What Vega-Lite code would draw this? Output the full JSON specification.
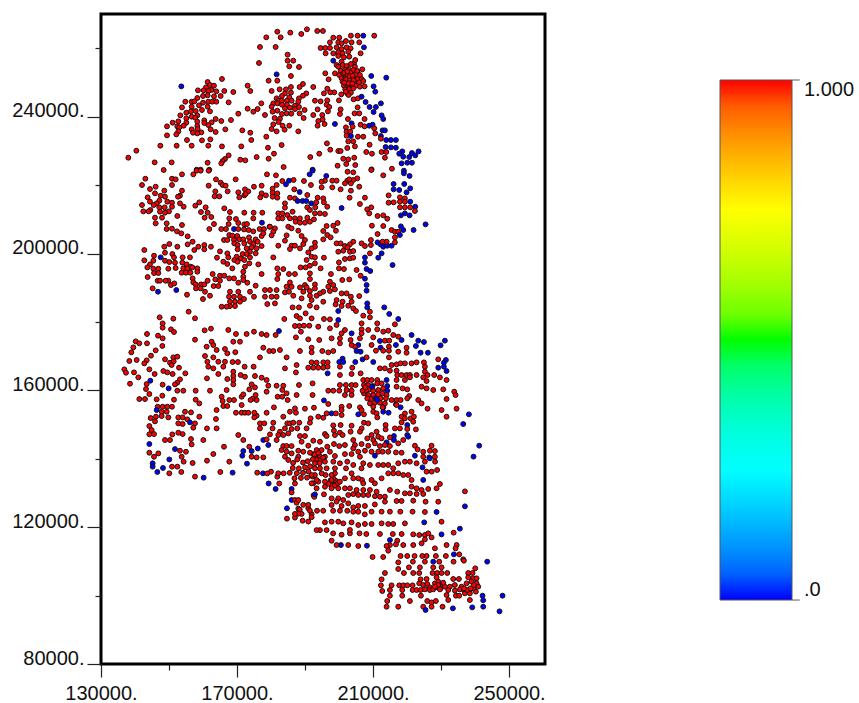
{"$schema":"https://vega.github.io/schema/vega-lite/v6.json","width":444,"height":650,"autosize":"none","padding":{"left":101,"top":14,"right":314,"bottom":39},"background":"white","view":{"stroke":"black","strokeWidth":3,"fill":"white"},"config":{"font":"Liberation Sans"},"layer":[{"data":{"values":[
{"x":153620,"y":248900,"v":0},{"x":178610,"y":263240,"v":1},{"x":176750,"y":260410,"v":1},{"x":176460,"y":255730,"v":1},{"x":165580,"y":251050,"v":1},{"x":179300,"y":250560,"v":1},{"x":161360,"y":250170,"v":1},{"x":162050,"y":249290,"v":1},{"x":163230,"y":249100,"v":1},{"x":160870,"y":248610,"v":1},{"x":162440,"y":247830,"v":1},{"x":158520,"y":247730,"v":1},{"x":160190,"y":247730,"v":1},{"x":161560,"y":247540,"v":1},{"x":163910,"y":247440,"v":1},{"x":166260,"y":247540,"v":1},{"x":168910,"y":247250,"v":1},{"x":173120,"y":249100,"v":1},{"x":173910,"y":247540,"v":1},{"x":160000,"y":246080,"v":1},{"x":161360,"y":246270,"v":1},{"x":163230,"y":245980,"v":1},{"x":165190,"y":246080,"v":1},{"x":158320,"y":245490,"v":1},{"x":156660,"y":244420,"v":1},{"x":154800,"y":244420,"v":1},{"x":157450,"y":244510,"v":1},{"x":160000,"y":244120,"v":1},{"x":161560,"y":244420,"v":1},{"x":162730,"y":244420,"v":1},{"x":163910,"y":244420,"v":1},{"x":167540,"y":244220,"v":1},{"x":177140,"y":243930,"v":1},{"x":158820,"y":243350,"v":1},{"x":156660,"y":242950,"v":1},{"x":153820,"y":242760,"v":1},{"x":161360,"y":242950,"v":1},{"x":162050,"y":241590,"v":1},{"x":159700,"y":241980,"v":1},{"x":157840,"y":241690,"v":1},{"x":156460,"y":241590,"v":1},{"x":155090,"y":241200,"v":1},{"x":173120,"y":242370,"v":1},{"x":174790,"y":241490,"v":1},{"x":176060,"y":242270,"v":1},{"x":178220,"y":240520,"v":1},{"x":170380,"y":240910,"v":1},{"x":153330,"y":240420,"v":1},{"x":158320,"y":240420,"v":1},{"x":156660,"y":240030,"v":1},{"x":155090,"y":239540,"v":1},{"x":157740,"y":239740,"v":1},{"x":163720,"y":239350,"v":1},{"x":168220,"y":239050,"v":1},{"x":165380,"y":238760,"v":1},{"x":160380,"y":238960,"v":1},{"x":152740,"y":238670,"v":1},{"x":151070,"y":238280,"v":1},{"x":155090,"y":238280,"v":1},{"x":158320,"y":238570,"v":1},{"x":162540,"y":238370,"v":1},{"x":160380,"y":238180,"v":1},{"x":161560,"y":237590,"v":1},{"x":149410,"y":237200,"v":1},{"x":152440,"y":237200,"v":1},{"x":154310,"y":237400,"v":1},{"x":158320,"y":237300,"v":1},{"x":153030,"y":236910,"v":1},{"x":162250,"y":236330,"v":1},{"x":156660,"y":236330,"v":1},{"x":158420,"y":236420,"v":1},{"x":166560,"y":236330,"v":1},{"x":152740,"y":235740,"v":1},{"x":159500,"y":235450,"v":1},{"x":158320,"y":235150,"v":1},{"x":157050,"y":235350,"v":1},{"x":163720,"y":235550,"v":1},{"x":171560,"y":236030,"v":1},{"x":173910,"y":235350,"v":1},{"x":149410,"y":234570,"v":1},{"x":152150,"y":234860,"v":1},{"x":178610,"y":234180,"v":1},{"x":174200,"y":233200,"v":1},{"x":162150,"y":233400,"v":1},{"x":159700,"y":233110,"v":1},{"x":155290,"y":233200,"v":1},{"x":147450,"y":231550,"v":1},{"x":152250,"y":231550,"v":1},{"x":156660,"y":231550,"v":1},{"x":161560,"y":231550,"v":1},{"x":165580,"y":231350,"v":1},{"x":171260,"y":231350,"v":1},{"x":179100,"y":230960,"v":1},{"x":140390,"y":230080,"v":1},{"x":138040,"y":228040,"v":1},{"x":167540,"y":228720,"v":1},{"x":166460,"y":227650,"v":1},{"x":165770,"y":227060,"v":1},{"x":165380,"y":226380,"v":1},{"x":170970,"y":227450,"v":1},{"x":172440,"y":227260,"v":1},{"x":175770,"y":228230,"v":1},{"x":179300,"y":227740,"v":1},{"x":145780,"y":226670,"v":1},{"x":150780,"y":226670,"v":1},{"x":161360,"y":226570,"v":1},{"x":158130,"y":224530,"v":1},{"x":159300,"y":224530,"v":1},{"x":161850,"y":224530,"v":1},
{"x":181850,"y":264890,"v":1},{"x":182830,"y":263240,"v":1},{"x":185670,"y":264600,"v":1},{"x":188900,"y":264210,"v":1},{"x":190570,"y":265580,"v":1},{"x":193600,"y":265090,"v":1},{"x":195270,"y":265090,"v":1},{"x":181360,"y":260410,"v":1},{"x":184880,"y":258170,"v":1},{"x":184880,"y":256410,"v":1},{"x":186550,"y":256410,"v":1},{"x":185370,"y":254750,"v":1},{"x":188220,"y":254560,"v":1},{"x":181650,"y":252410,"v":0},{"x":185860,"y":251930,"v":1},{"x":181850,"y":250560,"v":1},{"x":189390,"y":249590,"v":1},{"x":188410,"y":248710,"v":1},{"x":192430,"y":248710,"v":1},{"x":182530,"y":248030,"v":1},{"x":184390,"y":248030,"v":1},{"x":185860,"y":248710,"v":1},{"x":180180,"y":247540,"v":1},{"x":185860,"y":247050,"v":1},{"x":184100,"y":246850,"v":1},{"x":190370,"y":246850,"v":1},{"x":189390,"y":246170,"v":1},{"x":188220,"y":245390,"v":1},{"x":183220,"y":246080,"v":1},{"x":185370,"y":245690,"v":1},{"x":181650,"y":245390,"v":1},{"x":182240,"y":244710,"v":1},{"x":183220,"y":244710,"v":1},{"x":184690,"y":244710,"v":1},{"x":186060,"y":244710,"v":1},{"x":188020,"y":244420,"v":1},{"x":180670,"y":243930,"v":1},{"x":181850,"y":243930,"v":1},{"x":183220,"y":243540,"v":1},{"x":184690,"y":243540,"v":1},{"x":187040,"y":243250,"v":1},{"x":188220,"y":242860,"v":1},{"x":180180,"y":242950,"v":1},{"x":184100,"y":242470,"v":1},{"x":185570,"y":242660,"v":1},{"x":187040,"y":242270,"v":1},{"x":189880,"y":241980,"v":1},{"x":188410,"y":241000,"v":1},{"x":183220,"y":240810,"v":1},{"x":184590,"y":241000,"v":1},{"x":185960,"y":240910,"v":1},{"x":181850,"y":241790,"v":1},{"x":180470,"y":241490,"v":1},{"x":182630,"y":239440,"v":1},{"x":189590,"y":239640,"v":1},{"x":181060,"y":239640,"v":1},{"x":182240,"y":238470,"v":1},{"x":183410,"y":237400,"v":1},{"x":185370,"y":237400,"v":1},{"x":180670,"y":237790,"v":1},{"x":184000,"y":236230,"v":1},{"x":181650,"y":235740,"v":1},{"x":188020,"y":235740,"v":1},{"x":180180,"y":236420,"v":1},{"x":183120,"y":231740,"v":1},{"x":180870,"y":229210,"v":1},
{"x":198310,"y":263140,"v":1},{"x":200070,"y":263140,"v":1},{"x":203500,"y":263720,"v":1},{"x":205460,"y":263720,"v":1},{"x":207130,"y":263720,"v":0},{"x":210360,"y":263720,"v":1},{"x":197330,"y":261770,"v":1},{"x":199780,"y":261770,"v":1},{"x":200760,"y":261480,"v":1},{"x":202030,"y":262160,"v":1},{"x":203700,"y":261770,"v":1},{"x":205950,"y":261770,"v":1},{"x":207330,"y":260310,"v":0},{"x":194590,"y":260120,"v":1},{"x":195960,"y":260120,"v":1},{"x":197330,"y":260120,"v":1},{"x":199290,"y":260310,"v":1},{"x":200760,"y":259820,"v":1},{"x":202230,"y":260310,"v":1},{"x":203410,"y":260020,"v":1},{"x":196060,"y":258560,"v":1},{"x":198310,"y":258560,"v":1},{"x":199780,"y":258850,"v":1},{"x":201050,"y":258560,"v":1},{"x":202720,"y":259040,"v":1},{"x":206350,"y":258560,"v":1},{"x":198310,"y":256410,"v":0},{"x":199780,"y":257780,"v":1},{"x":201450,"y":257390,"v":1},{"x":203010,"y":257580,"v":1},{"x":199290,"y":255140,"v":1},{"x":200760,"y":256120,"v":1},{"x":204390,"y":255630,"v":1},{"x":204780,"y":256610,"v":1},{"x":206840,"y":253880,"v":1},{"x":195960,"y":252710,"v":1},{"x":196940,"y":250950,"v":1},{"x":198800,"y":252710,"v":1},{"x":209480,"y":251930,"v":0},{"x":213890,"y":251440,"v":0},{"x":210170,"y":248900,"v":0},{"x":210660,"y":247340,"v":0},
{"x":199780,"y":254660,"v":1},{"x":201050,"y":255140,"v":1},{"x":202230,"y":254850,"v":1},{"x":203500,"y":255440,"v":1},{"x":204680,"y":254660,"v":1},{"x":200470,"y":253490,"v":1},{"x":201740,"y":253680,"v":1},{"x":202920,"y":253880,"v":1},{"x":204190,"y":253680,"v":1},{"x":205370,"y":253390,"v":1},{"x":200070,"y":252220,"v":1},{"x":201250,"y":252510,"v":1},{"x":202430,"y":252710,"v":1},{"x":203700,"y":252510,"v":1},{"x":204880,"y":252220,"v":1},{"x":206150,"y":252220,"v":1},{"x":200760,"y":251240,"v":1},{"x":201940,"y":251440,"v":1},{"x":203010,"y":251540,"v":1},{"x":204190,"y":251240,"v":1},{"x":205370,"y":251050,"v":1},{"x":206640,"y":251050,"v":1},{"x":201050,"y":250270,"v":1},{"x":202230,"y":250370,"v":1},{"x":203410,"y":250460,"v":1},{"x":204680,"y":250070,"v":1},{"x":205950,"y":250070,"v":1},{"x":207130,"y":250460,"v":1},{"x":201450,"y":249100,"v":1},{"x":202620,"y":249290,"v":1},{"x":203800,"y":249200,"v":1},{"x":204970,"y":249100,"v":1},{"x":206150,"y":248800,"v":1},{"x":207520,"y":248900,"v":1},{"x":201840,"y":248030,"v":1},{"x":203010,"y":248120,"v":1},{"x":204190,"y":248320,"v":1},{"x":202430,"y":246850,"v":1},{"x":203500,"y":247050,"v":1},{"x":202810,"y":246370,"v":1},{"x":202030,"y":247340,"v":1},{"x":201600,"y":252900,"v":1},{"x":202500,"y":252100,"v":1},{"x":203300,"y":252900,"v":1},{"x":202100,"y":251000,"v":1},{"x":203200,"y":250900,"v":1},{"x":204300,"y":250700,"v":1},{"x":202800,"y":249800,"v":1},{"x":203900,"y":249700,"v":1},{"x":202400,"y":253300,"v":1},{"x":203100,"y":251900,"v":1},{"x":204000,"y":252000,"v":1},{"x":201500,"y":250000,"v":1},
{"x":200660,"y":246560,"v":1},{"x":195570,"y":246850,"v":1},{"x":196550,"y":248220,"v":1},{"x":198600,"y":247150,"v":1},{"x":197430,"y":247150,"v":1},{"x":204290,"y":245100,"v":1},{"x":205560,"y":245390,"v":1},{"x":206640,"y":245880,"v":0},{"x":199980,"y":244810,"v":1},{"x":192920,"y":244710,"v":1},{"x":194590,"y":244510,"v":1},{"x":196550,"y":244810,"v":1},{"x":196350,"y":243540,"v":1},{"x":207820,"y":244320,"v":0},{"x":212320,"y":243930,"v":0},{"x":197130,"y":242860,"v":1},{"x":208990,"y":242860,"v":0},{"x":210850,"y":242860,"v":0},{"x":205460,"y":242760,"v":1},{"x":200470,"y":242170,"v":1},{"x":193700,"y":242170,"v":1},{"x":196740,"y":241590,"v":1},{"x":210170,"y":241390,"v":0},{"x":204580,"y":241000,"v":1},{"x":205950,"y":241000,"v":1},{"x":212520,"y":240420,"v":0},{"x":192430,"y":240520,"v":1},{"x":195080,"y":240520,"v":1},{"x":200270,"y":240810,"v":1},{"x":193900,"y":238760,"v":1},{"x":195170,"y":239250,"v":1},{"x":202620,"y":239350,"v":1},{"x":207520,"y":239350,"v":1},{"x":213010,"y":239350,"v":0},{"x":195760,"y":237890,"v":1},{"x":193700,"y":237400,"v":1},{"x":198800,"y":237890,"v":0},{"x":203700,"y":238080,"v":0},{"x":206350,"y":237690,"v":1},{"x":208890,"y":237400,"v":0},{"x":209870,"y":237690,"v":0},{"x":203990,"y":237110,"v":1},{"x":202030,"y":236910,"v":1},{"x":207520,"y":237200,"v":1},{"x":210360,"y":236620,"v":1},{"x":202230,"y":235640,"v":1},{"x":203310,"y":235640,"v":1},{"x":212810,"y":236030,"v":0},{"x":213500,"y":236030,"v":0},{"x":210660,"y":235150,"v":1},{"x":202230,"y":234470,"v":1},{"x":203500,"y":234370,"v":0},{"x":205560,"y":234180,"v":1},{"x":207130,"y":234180,"v":1},{"x":212320,"y":234370,"v":0},{"x":212320,"y":233590,"v":1},{"x":213890,"y":233200,"v":0},{"x":215260,"y":233200,"v":0},{"x":216730,"y":233200,"v":0},{"x":202720,"y":232810,"v":1},{"x":204190,"y":232810,"v":1},{"x":196450,"y":232230,"v":1},{"x":208990,"y":231840,"v":1},{"x":213700,"y":231160,"v":0},{"x":215260,"y":231060,"v":0},{"x":216730,"y":230960,"v":0},{"x":197430,"y":230380,"v":1},{"x":202430,"y":230870,"v":1},{"x":204680,"y":231350,"v":1},{"x":199780,"y":229990,"v":1},{"x":200470,"y":229990,"v":1},{"x":194190,"y":229210,"v":1},{"x":208010,"y":229700,"v":1},{"x":209690,"y":229210,"v":1},{"x":212520,"y":229700,"v":1},{"x":213890,"y":229700,"v":1},{"x":218600,"y":229890,"v":0},{"x":217710,"y":229210,"v":0},{"x":221440,"y":229400,"v":0},{"x":223400,"y":229890,"v":0},{"x":222420,"y":228720,"v":0},{"x":218890,"y":228330,"v":0},{"x":220650,"y":228230,"v":0},{"x":191550,"y":228230,"v":1},{"x":213500,"y":228040,"v":1},{"x":201250,"y":227740,"v":1},{"x":202720,"y":227550,"v":1},{"x":204480,"y":228040,"v":1},{"x":218400,"y":226380,"v":0},{"x":220070,"y":226570,"v":0},{"x":221440,"y":226570,"v":0},{"x":202130,"y":226190,"v":1},{"x":204780,"y":225890,"v":1},{"x":199580,"y":225700,"v":1},{"x":183710,"y":225310,"v":1},{"x":215560,"y":224820,"v":1},{"x":192240,"y":224530,"v":0},{"x":209580,"y":224630,"v":1},
{"x":143040,"y":221900,"v":1},{"x":142060,"y":220050,"v":1},{"x":146080,"y":219560,"v":1},{"x":144410,"y":218880,"v":1},{"x":145880,"y":217620,"v":1},{"x":148620,"y":218400,"v":1},{"x":148430,"y":224440,"v":1},{"x":150880,"y":221900,"v":1},{"x":151960,"y":221710,"v":1},{"x":153820,"y":223170,"v":1},{"x":150880,"y":220050,"v":1},{"x":157150,"y":223170,"v":1},{"x":158130,"y":224240,"v":1},{"x":159310,"y":224240,"v":1},{"x":161660,"y":224240,"v":1},{"x":163810,"y":221710,"v":1},{"x":165190,"y":220740,"v":1},{"x":161660,"y":219860,"v":1},{"x":169600,"y":221710,"v":1},{"x":165770,"y":220050,"v":1},{"x":166660,"y":219860,"v":1},{"x":167240,"y":218200,"v":1},{"x":163620,"y":218200,"v":1},{"x":163420,"y":216740,"v":1},{"x":164790,"y":216740,"v":1},{"x":170380,"y":217910,"v":1},{"x":172340,"y":218790,"v":1},{"x":173320,"y":218200,"v":1},{"x":174980,"y":219560,"v":1},{"x":177240,"y":219860,"v":1},{"x":178810,"y":223170,"v":1},{"x":172140,"y":217030,"v":1},{"x":170670,"y":216450,"v":1},{"x":172540,"y":217420,"v":1},{"x":177240,"y":217620,"v":1},{"x":176850,"y":216450,"v":1},{"x":178510,"y":217030,"v":1},{"x":153820,"y":218400,"v":1},{"x":153230,"y":216930,"v":1},{"x":152640,"y":216640,"v":1},{"x":143720,"y":216450,"v":1},{"x":147550,"y":216930,"v":1},{"x":147150,"y":215470,"v":1},{"x":148820,"y":216640,"v":1},{"x":144410,"y":215180,"v":1},{"x":146370,"y":214690,"v":1},{"x":142060,"y":214200,"v":1},{"x":145490,"y":214200,"v":1},{"x":149510,"y":215180,"v":1},{"x":150880,"y":214880,"v":1},{"x":153230,"y":214690,"v":1},{"x":154310,"y":213710,"v":1},{"x":158910,"y":214980,"v":1},{"x":157740,"y":214010,"v":1},{"x":147150,"y":213520,"v":1},{"x":148720,"y":213520,"v":1},{"x":144510,"y":212740,"v":1},{"x":150880,"y":213710,"v":1},{"x":142450,"y":212350,"v":1},{"x":144020,"y":212350,"v":1},{"x":147350,"y":212250,"v":1},{"x":149990,"y":212350,"v":1},{"x":148820,"y":211960,"v":1},{"x":160780,"y":213520,"v":1},{"x":159400,"y":212150,"v":1},{"x":161360,"y":211960,"v":1},{"x":166260,"y":213230,"v":1},{"x":167930,"y":212150,"v":1},{"x":172140,"y":211960,"v":1},{"x":174890,"y":211960,"v":1},{"x":177440,"y":211960,"v":1},{"x":145880,"y":210500,"v":1},{"x":147940,"y":210500,"v":1},{"x":152450,"y":210990,"v":1},{"x":160480,"y":210500,"v":1},{"x":162440,"y":210690,"v":1},{"x":167730,"y":210300,"v":1},{"x":169690,"y":210110,"v":1},{"x":174790,"y":210300,"v":1},{"x":146080,"y":208840,"v":1},{"x":149310,"y":208840,"v":1},{"x":153820,"y":208350,"v":1},{"x":163230,"y":208640,"v":1},{"x":167540,"y":208640,"v":1},{"x":170380,"y":208940,"v":1},{"x":172140,"y":208550,"v":1},{"x":172930,"y":208640,"v":1},{"x":177340,"y":209040,"v":0},{"x":149310,"y":207180,"v":1},{"x":150880,"y":207280,"v":1},{"x":152350,"y":206500,"v":1},{"x":153620,"y":205910,"v":1},{"x":161860,"y":207180,"v":1},{"x":165380,"y":207180,"v":1},{"x":166760,"y":207180,"v":1},{"x":169110,"y":207180,"v":0},{"x":170380,"y":207180,"v":1},{"x":172050,"y":207080,"v":1},{"x":173420,"y":206890,"v":1},{"x":174790,"y":206500,"v":1},{"x":176650,"y":207180,"v":1},{"x":177930,"y":207180,"v":1},{"x":179590,"y":207860,"v":1},{"x":155480,"y":205040,"v":1},{"x":167730,"y":205430,"v":1},{"x":168620,"y":205230,"v":1},{"x":170090,"y":205130,"v":1},{"x":166170,"y":203970,"v":1},{"x":167150,"y":203970,"v":1},{"x":169110,"y":203970,"v":1},{"x":170670,"y":204160,"v":1},{"x":171850,"y":204160,"v":1},{"x":173520,"y":204750,"v":1},{"x":175480,"y":204160,"v":1},{"x":177240,"y":205130,"v":1},{"x":177730,"y":205910,"v":1},{"x":156950,"y":203480,"v":1},{"x":155480,"y":202700,"v":1},{"x":150090,"y":202790,"v":1},{"x":158620,"y":202010,"v":1},{"x":160380,"y":202500,"v":1},{"x":160380,"y":201240,"v":1},{"x":162340,"y":202010,"v":1},{"x":148620,"y":202010,"v":1},{"x":152450,"y":202010,"v":1},{"x":157440,"y":201040,"v":1},{"x":142740,"y":201040,"v":1},{"x":169200,"y":202990,"v":1},{"x":170180,"y":202500,"v":1},{"x":172140,"y":202990,"v":1},{"x":173820,"y":203480,"v":1},{"x":174790,"y":202790,"v":1},{"x":176060,"y":203480,"v":1},{"x":170180,"y":201240,"v":1},{"x":172830,"y":201530,"v":1},{"x":174300,"y":201820,"v":1},{"x":175770,"y":201530,"v":1},{"x":177240,"y":202210,"v":1},{"x":175480,"y":200070,"v":1},{"x":173820,"y":200550,"v":1},{"x":148820,"y":200260,"v":1},{"x":150980,"y":199870,"v":1},{"x":156170,"y":198900,"v":1},{"x":154010,"y":198900,"v":1},{"x":151470,"y":198900,"v":1},{"x":147550,"y":198900,"v":0},{"x":145590,"y":199380,"v":1},{"x":164990,"y":200650,"v":1},{"x":164110,"y":198800,"v":1},{"x":167150,"y":200070,"v":1},{"x":167440,"y":198900,"v":1},{"x":169890,"y":199090,"v":1},{"x":171650,"y":199870,"v":1},{"x":172830,"y":199870,"v":1},{"x":173820,"y":198900,"v":1},{"x":171160,"y":198600,"v":1},{"x":169200,"y":198120,"v":1},{"x":170180,"y":197630,"v":1},{"x":172140,"y":198120,"v":1},{"x":145390,"y":197920,"v":1},{"x":142740,"y":198020,"v":1},{"x":144410,"y":196850,"v":1},{"x":148820,"y":197920,"v":1},{"x":150090,"y":197530,"v":1},{"x":151760,"y":197340,"v":1},{"x":153920,"y":197340,"v":1},{"x":155190,"y":196850,"v":1},{"x":156370,"y":196160,"v":1},{"x":165970,"y":197630,"v":1},{"x":167150,"y":196950,"v":1},{"x":168620,"y":195680,"v":1},{"x":172340,"y":196160,"v":1},{"x":173620,"y":197140,"v":1},{"x":176260,"y":196850,"v":1},{"x":143630,"y":195970,"v":1},{"x":145390,"y":195580,"v":1},{"x":146860,"y":195580,"v":1},{"x":145590,"y":194310,"v":1},{"x":146860,"y":194310,"v":1},{"x":149800,"y":195580,"v":1},{"x":151960,"y":195780,"v":1},{"x":154210,"y":195680,"v":1},{"x":155390,"y":195680,"v":1},{"x":156860,"y":195970,"v":1},{"x":158320,"y":195680,"v":1},{"x":158320,"y":194700,"v":1},{"x":153720,"y":194410,"v":1},{"x":154990,"y":194410,"v":1},{"x":156270,"y":194410,"v":1},{"x":146660,"y":192070,"v":1},{"x":143720,"y":193140,"v":1},{"x":162840,"y":194020,"v":1},{"x":164990,"y":193530,"v":1},{"x":166260,"y":193530,"v":1},{"x":167730,"y":192750,"v":1},{"x":169110,"y":192750,"v":1},{"x":171850,"y":194700,"v":1},{"x":171850,"y":193240,"v":1},{"x":171850,"y":192270,"v":1},{"x":177240,"y":194020,"v":1},{"x":163620,"y":192460,"v":1},{"x":156950,"y":192750,"v":1},{"x":157150,"y":191580,"v":1},{"x":149800,"y":192070,"v":1},{"x":149020,"y":192070,"v":1},{"x":147350,"y":192070,"v":1},{"x":150580,"y":190800,"v":1},{"x":151560,"y":191290,"v":1},{"x":145190,"y":189830,"v":1},{"x":146760,"y":188850,"v":0},{"x":152150,"y":189340,"v":0},{"x":157840,"y":190990,"v":1},{"x":159400,"y":190990,"v":1},{"x":160380,"y":190990,"v":1},{"x":161360,"y":192070,"v":1},{"x":157930,"y":189830,"v":1},{"x":159310,"y":189830,"v":1},{"x":160580,"y":188850,"v":1},{"x":163130,"y":190510,"v":1},{"x":164500,"y":190510,"v":1},{"x":164990,"y":192070,"v":1},{"x":162050,"y":187680,"v":1},{"x":155290,"y":187980,"v":1},{"x":159990,"y":186710,"v":1},{"x":173030,"y":191480,"v":1},{"x":170380,"y":191480,"v":1},{"x":178220,"y":189340,"v":1},{"x":175480,"y":190610,"v":1},{"x":173820,"y":188850,"v":1},{"x":170380,"y":188850,"v":1},{"x":167930,"y":188850,"v":1},{"x":169110,"y":187390,"v":1},{"x":174990,"y":187390,"v":1},{"x":167640,"y":187390,"v":1},{"x":170870,"y":187390,"v":1},{"x":172050,"y":186710,"v":1},{"x":178220,"y":187390,"v":1},{"x":167930,"y":185930,"v":1},{"x":169410,"y":185930,"v":1},{"x":170870,"y":185930,"v":1},{"x":167930,"y":184660,"v":1},{"x":169410,"y":184660,"v":1},{"x":165480,"y":184470,"v":1},{"x":166960,"y":184470,"v":1},{"x":178910,"y":185250,"v":1},
{"x":192230,"y":224250,"v":0},{"x":191350,"y":223170,"v":0},{"x":196250,"y":222690,"v":0},{"x":181450,"y":222880,"v":1},{"x":209480,"y":224440,"v":1},{"x":213010,"y":222880,"v":1},{"x":219090,"y":224250,"v":0},{"x":219090,"y":223470,"v":0},{"x":220750,"y":222690,"v":0},{"x":202520,"y":223950,"v":1},{"x":204190,"y":223760,"v":1},{"x":205370,"y":222000,"v":1},{"x":204190,"y":221520,"v":1},{"x":202430,"y":221320,"v":1},{"x":201740,"y":220540,"v":1},{"x":203500,"y":220540,"v":1},{"x":203010,"y":221710,"v":1},{"x":198020,"y":221320,"v":1},{"x":199290,"y":221320,"v":1},{"x":195860,"y":221320,"v":1},{"x":194880,"y":221030,"v":1},{"x":189690,"y":221220,"v":1},{"x":186650,"y":221520,"v":1},{"x":183320,"y":221220,"v":1},{"x":185280,"y":221320,"v":0},{"x":184390,"y":220250,"v":0},{"x":181650,"y":220050,"v":1},{"x":191740,"y":220050,"v":1},{"x":198020,"y":219370,"v":1},{"x":194880,"y":219370,"v":1},{"x":200470,"y":218790,"v":1},{"x":203500,"y":218400,"v":1},{"x":205950,"y":219560,"v":1},{"x":216060,"y":220350,"v":0},{"x":219180,"y":220350,"v":0},{"x":216060,"y":218790,"v":0},{"x":217710,"y":218590,"v":0},{"x":220940,"y":219080,"v":0},{"x":219870,"y":217910,"v":0},{"x":188410,"y":218000,"v":0},{"x":186840,"y":218790,"v":1},{"x":180470,"y":218980,"v":1},{"x":180470,"y":217810,"v":1},{"x":181850,"y":217620,"v":1},{"x":180470,"y":216640,"v":1},{"x":181850,"y":216350,"v":1},{"x":190670,"y":217130,"v":1},{"x":193700,"y":216350,"v":1},{"x":195370,"y":216150,"v":1},{"x":203110,"y":216350,"v":1},{"x":207620,"y":216350,"v":1},{"x":214580,"y":217030,"v":1},{"x":217910,"y":216450,"v":1},{"x":219380,"y":216150,"v":1},{"x":217910,"y":215180,"v":1},{"x":219380,"y":215180,"v":1},{"x":214580,"y":214880,"v":1},{"x":216060,"y":214980,"v":1},{"x":185570,"y":216350,"v":1},{"x":187040,"y":216150,"v":1},{"x":187820,"y":215370,"v":0},{"x":189290,"y":215370,"v":0},{"x":190370,"y":215370,"v":0},{"x":191840,"y":214690,"v":0},{"x":193310,"y":214980,"v":1},{"x":195560,"y":214980,"v":1},{"x":184100,"y":214690,"v":1},{"x":220940,"y":215180,"v":0},{"x":206150,"y":214490,"v":1},{"x":209480,"y":213520,"v":1},{"x":208300,"y":212940,"v":1},{"x":208890,"y":211770,"v":1},{"x":200760,"y":213330,"v":0},{"x":190670,"y":213520,"v":1},{"x":193010,"y":213520,"v":1},{"x":196540,"y":213710,"v":1},{"x":217910,"y":213520,"v":1},{"x":219380,"y":213520,"v":1},{"x":220940,"y":213520,"v":1},{"x":222420,"y":213710,"v":0},{"x":184100,"y":213430,"v":1},{"x":186350,"y":212250,"v":1},{"x":191450,"y":212740,"v":1},{"x":192920,"y":211770,"v":1},{"x":194390,"y":211770,"v":1},{"x":195860,"y":211570,"v":1},{"x":182140,"y":211770,"v":1},{"x":183320,"y":211770,"v":1},{"x":184790,"y":211280,"v":1},{"x":222320,"y":212450,"v":1},{"x":218200,"y":211180,"v":0},{"x":219380,"y":211770,"v":0},{"x":220750,"y":211180,"v":0},{"x":211340,"y":210990,"v":1},{"x":213010,"y":211180,"v":1},{"x":214190,"y":210200,"v":1},{"x":182140,"y":210300,"v":1},{"x":183320,"y":210300,"v":1},{"x":185570,"y":210300,"v":1},{"x":187040,"y":210300,"v":1},{"x":188510,"y":210300,"v":1},{"x":190670,"y":210500,"v":1},{"x":192630,"y":210010,"v":1},{"x":187240,"y":209330,"v":1},{"x":188510,"y":209040,"v":1},{"x":189980,"y":209040,"v":1},{"x":191450,"y":209330,"v":1},{"x":225460,"y":208550,"v":0},{"x":199580,"y":208940,"v":1},{"x":198310,"y":208160,"v":1},{"x":196350,"y":208060,"v":1},{"x":179690,"y":207860,"v":1},{"x":181160,"y":207380,"v":1},{"x":185080,"y":207860,"v":1},{"x":186060,"y":207380,"v":1},{"x":209680,"y":208160,"v":1},{"x":213010,"y":208060,"v":1},{"x":218200,"y":207960,"v":0},{"x":218890,"y":206890,"v":0},{"x":221930,"y":206890,"v":0},{"x":215460,"y":206890,"v":1},{"x":216440,"y":206400,"v":1},{"x":217420,"y":206400,"v":1},{"x":195370,"y":206600,"v":1},{"x":199090,"y":206690,"v":1},{"x":188020,"y":206690,"v":1},{"x":180670,"y":206400,"v":1},{"x":180180,"y":205330,"v":1},{"x":211340,"y":205720,"v":1},{"x":217910,"y":205430,"v":0},{"x":184590,"y":205330,"v":1},{"x":184100,"y":203770,"v":1},{"x":196550,"y":205430,"v":1},{"x":197530,"y":204750,"v":1},{"x":189000,"y":205140,"v":1},{"x":189980,"y":203970,"v":1},{"x":192920,"y":203190,"v":1},{"x":195370,"y":204160,"v":1},{"x":216440,"y":204750,"v":1},{"x":209380,"y":203970,"v":1},{"x":211340,"y":203280,"v":0},{"x":212210,"y":202700,"v":0},{"x":213010,"y":202010,"v":0},{"x":214190,"y":202300,"v":0},{"x":215460,"y":202300,"v":0},{"x":216440,"y":203280,"v":1},{"x":214000,"y":203480,"v":1},{"x":212810,"y":203480,"v":1},{"x":206640,"y":202990,"v":1},{"x":204190,"y":203480,"v":1},{"x":199290,"y":202990,"v":1},{"x":200470,"y":202990,"v":1},{"x":201740,"y":202210,"v":1},{"x":203210,"y":202700,"v":1},{"x":202520,"y":201820,"v":1},{"x":182140,"y":202310,"v":1},{"x":186060,"y":202310,"v":1},{"x":187040,"y":202310,"v":1},{"x":189490,"y":202790,"v":1},{"x":185570,"y":201330,"v":1},{"x":188510,"y":201530,"v":1},{"x":192920,"y":202010,"v":1},{"x":191940,"y":201530,"v":1},{"x":199780,"y":200550,"v":1},{"x":201250,"y":200840,"v":1},{"x":203210,"y":200550,"v":1},{"x":204190,"y":200750,"v":1},{"x":207620,"y":202210,"v":1},{"x":209380,"y":202500,"v":1},{"x":190960,"y":200360,"v":1},{"x":209090,"y":200070,"v":1},{"x":212520,"y":200070,"v":0},{"x":191940,"y":199090,"v":1},{"x":192920,"y":198890,"v":1},{"x":195560,"y":198800,"v":1},{"x":180670,"y":198890,"v":1},{"x":211540,"y":198800,"v":0},{"x":207620,"y":198890,"v":0},{"x":203210,"y":198600,"v":1},{"x":204190,"y":198800,"v":1},{"x":201740,"y":198410,"v":1},{"x":199980,"y":197430,"v":1},{"x":207620,"y":197340,"v":0},{"x":190470,"y":198120,"v":1},{"x":192920,"y":197140,"v":1},{"x":191450,"y":196460,"v":1},{"x":190180,"y":195970,"v":1},{"x":188710,"y":195970,"v":1},{"x":181850,"y":195680,"v":1},{"x":183610,"y":195480,"v":1},{"x":194590,"y":195680,"v":1},{"x":199980,"y":195680,"v":1},{"x":201450,"y":195480,"v":1},{"x":205170,"y":195190,"v":1},{"x":215750,"y":196650,"v":0},{"x":208110,"y":195480,"v":0},{"x":209180,"y":194900,"v":0},{"x":182140,"y":194020,"v":1},{"x":185280,"y":194020,"v":1},{"x":187040,"y":194020,"v":1},{"x":191450,"y":194220,"v":1},{"x":197620,"y":194020,"v":1},{"x":206350,"y":193530,"v":1},{"x":207620,"y":192660,"v":0},{"x":181850,"y":192560,"v":1},{"x":191450,"y":192560,"v":1},{"x":200960,"y":192270,"v":1},{"x":203010,"y":192460,"v":1},{"x":197330,"y":191780,"v":1},{"x":192920,"y":190990,"v":1},{"x":185570,"y":191580,"v":1},{"x":184590,"y":190310,"v":1},{"x":196840,"y":190310,"v":1},{"x":198310,"y":190800,"v":1},{"x":208110,"y":190800,"v":0},{"x":208110,"y":189150,"v":0},{"x":186060,"y":190310,"v":1},{"x":189980,"y":190800,"v":1},{"x":188510,"y":190120,"v":1},{"x":190470,"y":190120,"v":1},{"x":192920,"y":189830,"v":1},{"x":198800,"y":189540,"v":1},{"x":195370,"y":188850,"v":1},{"x":194390,"y":188360,"v":1},{"x":184100,"y":188660,"v":1},{"x":185280,"y":188850,"v":1},{"x":181650,"y":189340,"v":1},{"x":179690,"y":189340,"v":1},{"x":191450,"y":189050,"v":1},{"x":189490,"y":188850,"v":1},{"x":197330,"y":189050,"v":1},{"x":200760,"y":188360,"v":1},{"x":202230,"y":188360,"v":1},{"x":203500,"y":187390,"v":1},{"x":205950,"y":187580,"v":1},{"x":181650,"y":187390,"v":1},{"x":180180,"y":187390,"v":1},{"x":186550,"y":187680,"v":1},{"x":189000,"y":186900,"v":1},{"x":191450,"y":187680,"v":1},{"x":193410,"y":187680,"v":1},{"x":191940,"y":186410,"v":1},{"x":195370,"y":185930,"v":1},{"x":199290,"y":186410,"v":1},{"x":201050,"y":185930,"v":1},{"x":203700,"y":185930,"v":1},{"x":181160,"y":185440,"v":1},{"x":191450,"y":184760,"v":1},{"x":199000,"y":185150,"v":1},{"x":200760,"y":184660,"v":1},{"x":202720,"y":184760,"v":1},{"x":208300,"y":185440,"v":0},{"x":208300,"y":184270,"v":0},{"x":213300,"y":184270,"v":0},{"x":186350,"y":184270,"v":1},{"x":188220,"y":184270,"v":1},{"x":193410,"y":184270,"v":1},{"x":204190,"y":183980,"v":1},
{"x":155780,"y":183020,"v":1},{"x":147250,"y":181360,"v":1},{"x":151270,"y":180970,"v":1},{"x":157640,"y":181070,"v":1},{"x":148130,"y":179600,"v":1},{"x":148130,"y":178340,"v":1},{"x":150580,"y":177850,"v":1},{"x":151470,"y":177070,"v":1},{"x":162340,"y":178050,"v":1},{"x":160480,"y":177560,"v":1},{"x":143530,"y":176490,"v":1},{"x":146760,"y":176000,"v":1},{"x":148130,"y":175220,"v":1},{"x":157640,"y":174830,"v":1},{"x":140200,"y":174340,"v":1},{"x":141270,"y":173760,"v":1},{"x":143530,"y":173760,"v":1},{"x":148040,"y":173000,"v":1},{"x":146080,"y":171710,"v":1},{"x":139510,"y":172580,"v":1},{"x":138920,"y":171120,"v":1},{"x":144710,"y":170150,"v":1},{"x":138330,"y":168590,"v":1},{"x":140490,"y":168880,"v":1},{"x":143430,"y":168780,"v":1},{"x":142740,"y":167900,"v":1},{"x":148820,"y":169080,"v":1},{"x":151270,"y":169660,"v":1},{"x":152450,"y":169860,"v":1},{"x":150290,"y":168100,"v":1},{"x":151370,"y":168490,"v":1},{"x":150780,"y":167420,"v":1},{"x":152940,"y":166640,"v":1},{"x":148330,"y":165660,"v":1},{"x":149510,"y":165270,"v":1},{"x":144220,"y":166150,"v":1},{"x":145780,"y":164790,"v":1},{"x":136860,"y":166150,"v":1},{"x":137350,"y":165170,"v":1},{"x":139710,"y":165270,"v":1},{"x":140980,"y":163810,"v":1},{"x":138530,"y":161960,"v":1},{"x":144510,"y":162830,"v":0},{"x":154800,"y":164980,"v":1},{"x":151070,"y":164790,"v":1},{"x":153230,"y":163230,"v":1},{"x":152450,"y":162250,"v":1},{"x":151760,"y":161760,"v":1},{"x":149900,"y":160590,"v":0},{"x":148130,"y":161670,"v":1},{"x":143230,"y":160390,"v":1},{"x":144220,"y":158930,"v":1},{"x":152450,"y":159910,"v":1},{"x":154210,"y":159910,"v":1},{"x":157840,"y":159910,"v":1},{"x":162050,"y":159910,"v":1},{"x":146370,"y":157380,"v":1},{"x":141270,"y":157470,"v":1},{"x":142940,"y":157470,"v":1},{"x":148040,"y":158450,"v":1},{"x":151470,"y":157280,"v":1},{"x":157840,"y":157280,"v":1},{"x":158910,"y":156200,"v":1},{"x":161170,"y":163520,"v":1},{"x":161070,"y":172780,"v":1},{"x":162540,"y":174240,"v":1},{"x":163030,"y":173260,"v":1},{"x":164010,"y":171810,"v":1},{"x":160580,"y":170050,"v":1},{"x":163030,"y":169660,"v":1},{"x":161270,"y":168390,"v":1},{"x":164500,"y":168390,"v":1},{"x":166460,"y":168390,"v":1},{"x":165970,"y":166930,"v":1},{"x":161560,"y":166930,"v":1},{"x":163030,"y":166440,"v":1},{"x":164500,"y":164790,"v":1},{"x":167150,"y":163320,"v":1},{"x":168910,"y":165470,"v":1},{"x":168910,"y":164200,"v":1},{"x":168910,"y":163030,"v":1},{"x":168910,"y":161760,"v":1},{"x":166950,"y":160100,"v":1},{"x":165480,"y":158150,"v":1},{"x":165770,"y":156890,"v":1},{"x":165970,"y":155420,"v":1},{"x":167150,"y":155420,"v":1},{"x":167740,"y":157180,"v":1},{"x":169110,"y":157180,"v":1},{"x":171360,"y":158150,"v":1},{"x":171850,"y":158830,"v":1},{"x":175480,"y":158640,"v":1},{"x":174600,"y":157570,"v":1},{"x":175770,"y":157180,"v":1},{"x":173990,"y":157180,"v":1},{"x":174300,"y":161760,"v":1},{"x":173620,"y":160300,"v":1},{"x":175280,"y":160880,"v":1},{"x":171070,"y":164490,"v":1},{"x":172340,"y":164000,"v":1},{"x":175280,"y":164200,"v":1},{"x":172240,"y":166930,"v":1},{"x":174890,"y":166930,"v":1},{"x":170280,"y":168290,"v":1},{"x":168710,"y":168290,"v":1},{"x":167150,"y":170830,"v":1},{"x":169500,"y":171170,"v":1},{"x":166460,"y":172100,"v":1},{"x":168910,"y":174240,"v":1},{"x":170870,"y":174240,"v":1},{"x":167440,"y":177660,"v":1},{"x":169690,"y":176490,"v":1},{"x":172830,"y":176490,"v":1},{"x":174990,"y":177170,"v":1},{"x":177240,"y":176490,"v":1},{"x":178710,"y":176190,"v":1},{"x":181360,"y":176190,"v":1},{"x":182340,"y":177360,"v":0},{"x":183910,"y":180870,"v":1},{"x":184590,"y":169660,"v":1},{"x":176750,"y":169660,"v":1},{"x":177730,"y":172490,"v":1},{"x":179500,"y":171510,"v":1},{"x":180670,"y":171510,"v":1},{"x":182630,"y":171810,"v":1},{"x":184100,"y":166440,"v":1},{"x":177240,"y":163720,"v":1},{"x":178710,"y":163030,"v":1},{"x":179200,"y":161370,"v":1},{"x":181650,"y":161370,"v":1},{"x":183610,"y":161370,"v":1},{"x":178710,"y":159620,"v":1},{"x":183320,"y":160130,"v":1},{"x":181940,"y":158150,"v":1},{"x":183320,"y":158150,"v":1},{"x":184590,"y":159130,"v":1},{"x":180860,"y":155040,"v":1},{"x":184890,"y":157180,"v":1},
{"x":183610,"y":152310,"v":1},{"x":184790,"y":150360,"v":1},{"x":176750,"y":150360,"v":1},{"x":178020,"y":150360,"v":1},{"x":180670,"y":150550,"v":1},{"x":176750,"y":148890,"v":1},{"x":180470,"y":148890,"v":1},{"x":182630,"y":147920,"v":1},{"x":184100,"y":148890,"v":1},{"x":182140,"y":146940,"v":1},{"x":179690,"y":147140,"v":1},{"x":177730,"y":145480,"v":0},{"x":179200,"y":144020,"v":0},{"x":178710,"y":145680,"v":1},{"x":181650,"y":145480,"v":1},{"x":183610,"y":146940,"v":1},{"x":185080,"y":147430,"v":1},{"x":183610,"y":143730,"v":1},{"x":184590,"y":143730,"v":1},{"x":183120,"y":142560,"v":1},{"x":184590,"y":142070,"v":1},{"x":184100,"y":140610,"v":1},{"x":175770,"y":152600,"v":1},{"x":178710,"y":153470,"v":1},{"x":175080,"y":152110,"v":1},{"x":175080,"y":153470,"v":1},{"x":169690,"y":153470,"v":1},{"x":171360,"y":153470,"v":1},{"x":172340,"y":153470,"v":1},{"x":173320,"y":153470,"v":1},{"x":171360,"y":155720,"v":1},{"x":163990,"y":154250,"v":1},{"x":163810,"y":151620,"v":1},{"x":161170,"y":148890,"v":1},{"x":164010,"y":148890,"v":1},{"x":170380,"y":146940,"v":1},{"x":171850,"y":145480,"v":1},{"x":174300,"y":142260,"v":0},{"x":171850,"y":142260,"v":0},{"x":171560,"y":140900,"v":0},{"x":173610,"y":143530,"v":1},{"x":174300,"y":140600,"v":1},{"x":175770,"y":140410,"v":1},{"x":177730,"y":140410,"v":1},{"x":166170,"y":143530,"v":1},{"x":163030,"y":141390,"v":1},{"x":154700,"y":153770,"v":1},{"x":156470,"y":153570,"v":1},{"x":158910,"y":152310,"v":1},{"x":152740,"y":152110,"v":1},{"x":154010,"y":152110,"v":1},{"x":155390,"y":151530,"v":1},{"x":157640,"y":150360,"v":1},{"x":152740,"y":150360,"v":1},{"x":154010,"y":150160,"v":1},{"x":156170,"y":150650,"v":0},{"x":157150,"y":149090,"v":1},{"x":152740,"y":147620,"v":1},{"x":154010,"y":147230,"v":1},{"x":150970,"y":147130,"v":1},{"x":148820,"y":145480,"v":1},{"x":150290,"y":145480,"v":1},{"x":156470,"y":145770,"v":1},{"x":160090,"y":145480,"v":1},{"x":156660,"y":144210,"v":1},{"x":144220,"y":149570,"v":1},{"x":144900,"y":148400,"v":1},{"x":144220,"y":147150,"v":1},{"x":145590,"y":147230,"v":1},{"x":144220,"y":144310,"v":0},{"x":144220,"y":141770,"v":1},{"x":145590,"y":140600,"v":1},{"x":146860,"y":141580,"v":1},{"x":151760,"y":142840,"v":0},{"x":153230,"y":142360,"v":1},{"x":154990,"y":142060,"v":1},{"x":153720,"y":140600,"v":1},{"x":150090,"y":139810,"v":0},{"x":146660,"y":155220,"v":1},{"x":148130,"y":155220,"v":1},{"x":149510,"y":155220,"v":1},{"x":150880,"y":155220,"v":1},{"x":146370,"y":154250,"v":0},{"x":147840,"y":153770,"v":1},{"x":149310,"y":153770,"v":1},{"x":147840,"y":152500,"v":1},{"x":144610,"y":151910,"v":1},{"x":146170,"y":152310,"v":1},{"x":149800,"y":152110,"v":1},{"x":145880,"y":150940,"v":1},{"x":143430,"y":161860,"v":1},
{"x":199780,"y":183210,"v":0},{"x":214770,"y":182340,"v":0},{"x":217420,"y":180870,"v":0},{"x":199780,"y":180580,"v":0},{"x":204970,"y":183210,"v":1},{"x":209090,"y":183020,"v":1},{"x":190180,"y":182530,"v":1},{"x":187530,"y":181750,"v":1},{"x":191940,"y":181070,"v":1},{"x":188510,"y":181070,"v":1},{"x":195570,"y":180870,"v":1},{"x":197330,"y":180780,"v":1},{"x":207130,"y":181850,"v":1},{"x":209090,"y":181360,"v":1},{"x":199290,"y":179120,"v":1},{"x":201740,"y":177660,"v":1},{"x":211240,"y":179600,"v":1},{"x":211240,"y":177850,"v":1},{"x":216440,"y":179310,"v":1},{"x":203700,"y":176680,"v":0},{"x":200760,"y":176680,"v":1},{"x":197330,"y":178140,"v":1},{"x":193900,"y":178630,"v":1},{"x":191250,"y":178920,"v":1},{"x":189690,"y":178920,"v":1},{"x":188310,"y":178830,"v":1},{"x":187040,"y":178830,"v":1},{"x":188800,"y":177170,"v":1},{"x":187330,"y":175510,"v":1},{"x":190960,"y":174930,"v":1},{"x":194190,"y":174730,"v":1},{"x":197820,"y":175220,"v":1},{"x":200270,"y":175220,"v":1},{"x":200270,"y":173760,"v":1},{"x":203410,"y":174730,"v":1},{"x":206640,"y":179600,"v":1},{"x":206640,"y":177850,"v":1},{"x":206640,"y":176680,"v":1},{"x":208600,"y":177660,"v":1},{"x":210070,"y":175510,"v":1},{"x":213010,"y":177170,"v":1},{"x":214480,"y":177460,"v":1},{"x":215950,"y":176190,"v":1},{"x":217420,"y":175710,"v":1},{"x":221340,"y":176190,"v":0},{"x":218400,"y":174730,"v":0},{"x":212030,"y":174440,"v":0},{"x":213500,"y":174540,"v":1},{"x":214770,"y":174540,"v":1},{"x":216730,"y":173270,"v":0},{"x":223300,"y":174540,"v":0},{"x":224970,"y":174150,"v":0},{"x":222610,"y":172980,"v":0},{"x":231140,"y":174540,"v":0},{"x":229870,"y":173170,"v":0},{"x":212230,"y":172490,"v":0},{"x":214680,"y":172780,"v":1},{"x":205660,"y":173270,"v":0},{"x":204680,"y":172780,"v":1},{"x":203700,"y":173270,"v":1},{"x":206150,"y":175220,"v":1},{"x":209580,"y":173270,"v":1},{"x":210850,"y":171610,"v":1},{"x":213010,"y":171610,"v":1},{"x":214680,"y":171610,"v":1},{"x":217420,"y":171320,"v":1},{"x":219870,"y":172490,"v":1},{"x":219870,"y":171020,"v":1},{"x":223990,"y":171020,"v":0},{"x":226140,"y":171020,"v":0},{"x":191940,"y":172490,"v":1},{"x":191940,"y":171120,"v":1},{"x":188510,"y":171510,"v":1},{"x":195080,"y":171510,"v":1},{"x":196840,"y":171120,"v":1},{"x":198310,"y":171510,"v":1},{"x":205170,"y":171510,"v":0},{"x":206350,"y":171320,"v":0},{"x":201050,"y":169270,"v":0},{"x":200070,"y":168300,"v":0},{"x":201250,"y":168300,"v":0},{"x":204780,"y":168300,"v":0},{"x":206930,"y":169080,"v":0},{"x":208110,"y":169660,"v":1},{"x":229180,"y":169080,"v":1},{"x":231430,"y":168880,"v":0},{"x":230850,"y":168100,"v":0},{"x":229180,"y":166640,"v":0},{"x":230850,"y":166930,"v":0},{"x":231630,"y":165660,"v":0},{"x":210070,"y":168300,"v":0},{"x":214680,"y":169660,"v":1},{"x":191940,"y":168200,"v":1},{"x":193410,"y":168100,"v":1},{"x":195370,"y":168200,"v":1},{"x":196640,"y":168200,"v":1},{"x":187530,"y":167420,"v":1},{"x":215460,"y":167420,"v":1},{"x":216930,"y":167610,"v":1},{"x":218110,"y":167910,"v":1},{"x":219380,"y":167910,"v":1},{"x":221340,"y":167910,"v":1},{"x":222810,"y":168200,"v":1},{"x":224970,"y":168200,"v":1},{"x":225260,"y":166930,"v":1},{"x":200270,"y":166930,"v":1},{"x":203900,"y":166640,"v":1},{"x":190960,"y":166640,"v":1},{"x":192430,"y":166640,"v":1},{"x":193900,"y":166640,"v":1},{"x":195370,"y":166640,"v":1},{"x":196640,"y":166930,"v":1},{"x":212030,"y":166440,"v":1},{"x":213500,"y":166440,"v":1},{"x":214970,"y":165760,"v":1},{"x":216930,"y":165760,"v":1},{"x":217130,"y":164490,"v":1},{"x":218400,"y":164490,"v":1},{"x":219870,"y":164490,"v":1},{"x":220850,"y":164490,"v":1},{"x":222810,"y":164490,"v":1},{"x":225260,"y":165470,"v":1},{"x":226040,"y":164490,"v":1},{"x":228000,"y":164490,"v":1},{"x":229670,"y":163810,"v":1},{"x":231630,"y":163030,"v":1},{"x":196640,"y":164980,"v":0},{"x":187330,"y":165270,"v":1},{"x":200270,"y":164490,"v":1},{"x":203700,"y":164790,"v":1},{"x":206350,"y":164980,"v":1},{"x":216930,"y":163030,"v":1},{"x":219380,"y":163030,"v":1},{"x":220850,"y":163810,"v":1},{"x":224770,"y":163810,"v":1},{"x":225750,"y":162740,"v":1},{"x":224280,"y":161080,"v":1},{"x":225750,"y":160590,"v":1},{"x":227710,"y":160110,"v":1},{"x":230650,"y":160300,"v":1},{"x":233880,"y":159620,"v":1},{"x":234280,"y":158640,"v":1},{"x":188220,"y":161570,"v":1},{"x":192230,"y":162050,"v":1},{"x":187530,"y":158640,"v":1},{"x":192230,"y":158640,"v":1},{"x":196840,"y":159910,"v":1},{"x":198310,"y":159910,"v":1},{"x":200070,"y":159910,"v":1},{"x":202030,"y":161570,"v":1},{"x":200270,"y":161570,"v":1},{"x":203700,"y":161570,"v":1},{"x":203700,"y":159910,"v":1},{"x":202230,"y":160110,"v":1},{"x":201740,"y":158640,"v":1},{"x":203700,"y":158640,"v":1},{"x":204880,"y":161570,"v":1},{"x":216930,"y":161080,"v":1},{"x":218690,"y":160590,"v":1},{"x":220070,"y":160300,"v":1},{"x":220650,"y":158350,"v":1},{"x":220070,"y":157670,"v":1},{"x":216930,"y":157180,"v":1},{"x":218110,"y":157180,"v":1},{"x":215460,"y":157180,"v":1},{"x":216730,"y":155910,"v":1},{"x":223300,"y":157180,"v":1},{"x":224280,"y":156200,"v":1},{"x":231630,"y":157470,"v":1},{"x":195570,"y":157080,"v":0},{"x":196840,"y":156010,"v":1},{"x":189980,"y":154650,"v":1},{"x":192630,"y":154940,"v":1},{"x":187040,"y":154740,"v":1},{"x":185570,"y":153770,"v":1},{"x":187330,"y":153470,"v":1},{"x":197820,"y":153280,"v":0},{"x":196350,"y":153280,"v":1},{"x":199090,"y":153280,"v":1},{"x":200760,"y":155230,"v":1},{"x":200760,"y":154260,"v":1},{"x":203010,"y":155430,"v":1},{"x":200760,"y":152790,"v":1},{"x":206150,"y":155040,"v":1},{"x":206640,"y":154260,"v":1},{"x":207330,"y":153000,"v":1},{"x":205660,"y":153000,"v":0},{"x":210070,"y":153770,"v":1},{"x":211050,"y":153280,"v":1},{"x":211250,"y":152110,"v":1},{"x":213010,"y":155040,"v":1},{"x":213010,"y":153770,"v":0},{"x":214580,"y":153470,"v":0},{"x":216930,"y":155720,"v":1},{"x":218110,"y":155040,"v":0},{"x":226040,"y":154650,"v":1},{"x":230160,"y":154260,"v":1},{"x":234570,"y":154650,"v":1},{"x":231630,"y":152310,"v":1},{"x":238200,"y":153000,"v":0},{"x":236530,"y":150160,"v":0},{"x":221340,"y":153770,"v":1},{"x":219380,"y":153280,"v":1},{"x":218400,"y":152310,"v":1},{"x":219380,"y":151820,"v":1},{"x":221050,"y":151820,"v":1},{"x":222030,"y":152310,"v":1},{"x":218400,"y":150650,"v":1},{"x":220070,"y":149870,"v":0},{"x":221830,"y":150840,"v":1},{"x":193900,"y":152310,"v":1},{"x":195370,"y":152010,"v":1},{"x":191650,"y":151820,"v":1},{"x":185570,"y":150360,"v":1},{"x":186550,"y":150550,"v":1},{"x":188310,"y":150550,"v":1},{"x":191450,"y":150550,"v":1},{"x":198310,"y":149770,"v":1},{"x":200470,"y":149870,"v":1},{"x":203700,"y":149670,"v":1},{"x":207330,"y":150550,"v":1},{"x":208600,"y":150360,"v":1},{"x":206640,"y":148890,"v":1},{"x":213700,"y":149870,"v":1},{"x":213700,"y":148600,"v":1},{"x":216440,"y":148890,"v":1},{"x":217910,"y":148890,"v":1},{"x":220070,"y":148700,"v":1},{"x":222610,"y":148600,"v":1},{"x":220070,"y":146940,"v":0},{"x":220360,"y":146460,"v":0},{"x":187730,"y":148890,"v":1},{"x":186060,"y":148700,"v":1},{"x":190470,"y":148890,"v":1},{"x":195860,"y":147240,"v":1},{"x":198510,"y":148210,"v":1},{"x":200270,"y":147630,"v":1},{"x":203410,"y":147920,"v":1},{"x":206150,"y":147920,"v":1},{"x":211050,"y":147920,"v":1},{"x":188510,"y":146650,"v":1},{"x":189980,"y":146650,"v":1},{"x":196350,"y":146650,"v":1},{"x":198800,"y":146940,"v":1},{"x":201050,"y":146940,"v":1},{"x":192430,"y":145290,"v":1},{"x":194390,"y":144990,"v":1},{"x":189000,"y":144990,"v":1},{"x":186060,"y":143720,"v":1},{"x":190960,"y":143820,"v":1},{"x":216150,"y":146650,"v":0},{"x":216150,"y":145480,"v":0},{"x":213990,"y":144800,"v":0},{"x":213500,"y":144020,"v":1},{"x":209580,"y":146940,"v":1},{"x":211540,"y":146460,"v":1},{"x":208310,"y":145970,"v":1},{"x":210070,"y":145480,"v":1},{"x":212520,"y":145970,"v":1},{"x":214970,"y":146260,"v":1},{"x":217420,"y":144510,"v":1},{"x":218890,"y":145480,"v":1},{"x":204190,"y":145480,"v":1},{"x":204680,"y":144020,"v":1},{"x":206640,"y":144310,"v":1},{"x":208600,"y":143820,"v":1},{"x":210560,"y":144510,"v":1},{"x":212030,"y":143720,"v":1},{"x":214970,"y":143720,"v":1},{"x":222320,"y":143820,"v":1},{"x":227220,"y":143820,"v":1},{"x":223100,"y":142750,"v":1},{"x":226730,"y":142360,"v":1},{"x":228200,"y":142260,"v":1},{"x":198510,"y":144310,"v":1},{"x":200070,"y":143720,"v":1},{"x":201740,"y":144020,"v":1},{"x":196550,"y":143530,"v":1},{"x":194880,"y":142560,"v":1},{"x":193410,"y":142560,"v":1},{"x":192430,"y":141380,"v":1},{"x":191450,"y":141780,"v":1},{"x":189490,"y":142070,"v":1},{"x":188020,"y":142360,"v":1},{"x":186060,"y":141580,"v":1},{"x":188020,"y":140610,"v":1},{"x":197330,"y":142070,"v":1},{"x":198800,"y":140800,"v":1},{"x":204190,"y":143040,"v":1},{"x":205660,"y":142070,"v":1},{"x":207620,"y":142360,"v":1},{"x":209580,"y":142070,"v":1},{"x":211540,"y":142070,"v":1},{"x":210560,"y":140900,"v":0},{"x":212810,"y":142070,"v":1},{"x":214480,"y":142070,"v":1},{"x":216730,"y":141870,"v":1},{"x":218400,"y":141770,"v":1},{"x":222320,"y":140900,"v":0},{"x":224770,"y":142070,"v":1},{"x":226530,"y":140410,"v":0},{"x":224770,"y":140600,"v":1},{"x":228200,"y":140600,"v":1},{"x":201740,"y":141380,"v":1},{"x":203700,"y":141380,"v":1},{"x":206150,"y":140600,"v":1},{"x":195860,"y":140600,"v":1},{"x":193410,"y":140600,"v":1},
{"x":207130,"y":163030,"v":1},{"x":208310,"y":163030,"v":1},{"x":209580,"y":163030,"v":1},{"x":211250,"y":163030,"v":1},{"x":207330,"y":161570,"v":1},{"x":208600,"y":161570,"v":1},{"x":209870,"y":161280,"v":0},{"x":211250,"y":162050,"v":1},{"x":212520,"y":162050,"v":1},{"x":213990,"y":163030,"v":0},{"x":214190,"y":161280,"v":0},{"x":207330,"y":160110,"v":1},{"x":207620,"y":159330,"v":1},{"x":208890,"y":160300,"v":1},{"x":210070,"y":159910,"v":1},{"x":211540,"y":160110,"v":1},{"x":213010,"y":160590,"v":1},{"x":214190,"y":159910,"v":0},{"x":208600,"y":158640,"v":1},{"x":210070,"y":158640,"v":1},{"x":211540,"y":158840,"v":1},{"x":212810,"y":159130,"v":1},{"x":213990,"y":158640,"v":1},{"x":209380,"y":157470,"v":1},{"x":210850,"y":157670,"v":0},{"x":212230,"y":157670,"v":1},{"x":213790,"y":157670,"v":1},{"x":209090,"y":156200,"v":1},{"x":210560,"y":156400,"v":1},{"x":212030,"y":156400,"v":1},{"x":213500,"y":156200,"v":1},{"x":210070,"y":155230,"v":1},{"x":207330,"y":159130,"v":1},{"x":207910,"y":159910,"v":1},{"x":206930,"y":159910,"v":1},{"x":207720,"y":160890,"v":1},{"x":211250,"y":157180,"v":0},{"x":209680,"y":161080,"v":0},{"x":212810,"y":155040,"v":1},{"x":208310,"y":157670,"v":1},
{"x":193500,"y":140530,"v":1},{"x":192800,"y":141200,"v":1},{"x":194300,"y":140900,"v":1},{"x":193200,"y":139800,"v":1},{"x":194600,"y":139600,"v":1},{"x":192300,"y":139900,"v":1},{"x":193900,"y":141700,"v":1},{"x":195300,"y":140300,"v":1},{"x":198200,"y":132900,"v":1},{"x":197500,"y":133700,"v":1},{"x":199000,"y":133600,"v":1},{"x":197800,"y":132200,"v":1},{"x":198800,"y":132200,"v":1},{"x":199700,"y":132900,"v":1},{"x":196900,"y":132700,"v":1},{"x":198400,"y":134200,"v":1},{"x":185080,"y":139650,"v":1},{"x":186500,"y":138800,"v":1},{"x":187700,"y":139800,"v":1},{"x":189400,"y":138900,"v":1},{"x":190800,"y":139300,"v":1},{"x":186400,"y":137300,"v":1},{"x":188200,"y":137200,"v":1},{"x":190000,"y":137500,"v":1},{"x":191500,"y":137800,"v":1},{"x":185500,"y":135900,"v":1},{"x":187600,"y":135800,"v":1},{"x":189400,"y":135900,"v":1},{"x":191000,"y":136300,"v":1},{"x":186900,"y":134300,"v":1},{"x":188800,"y":134400,"v":1},{"x":190600,"y":134500,"v":1},{"x":192200,"y":134800,"v":1},
{"x":145190,"y":138680,"v":0},{"x":145190,"y":137700,"v":0},{"x":148230,"y":137310,"v":0},{"x":146570,"y":136140,"v":0},{"x":150090,"y":135750,"v":1},{"x":153620,"y":136140,"v":1},{"x":152450,"y":137700,"v":1},{"x":150880,"y":137700,"v":1},{"x":154310,"y":139160,"v":1},{"x":156950,"y":138770,"v":1},{"x":161170,"y":139450,"v":1},{"x":157640,"y":134780,"v":1},{"x":160190,"y":134480,"v":0},{"x":165090,"y":136140,"v":1},{"x":168710,"y":135950,"v":0},{"x":167730,"y":139160,"v":1},{"x":172930,"y":138580,"v":0},{"x":175950,"y":135950,"v":1},{"x":177630,"y":135750,"v":0},{"x":180000,"y":136240,"v":1},{"x":181850,"y":134770,"v":1},{"x":179300,"y":132780,"v":0},{"x":182430,"y":132780,"v":1},{"x":181360,"y":131170,"v":0},{"x":186060,"y":131170,"v":0},{"x":186060,"y":130160,"v":1},{"x":186060,"y":127950,"v":0},{"x":187040,"y":127950,"v":1},{"x":187530,"y":127140,"v":1},{"x":188020,"y":127950,"v":1},{"x":188020,"y":125420,"v":1},{"x":188460,"y":125120,"v":1},{"x":189010,"y":123880,"v":1},{"x":188020,"y":123950,"v":1},{"x":189300,"y":121900,"v":1},{"x":184690,"y":125520,"v":0},{"x":184690,"y":122500,"v":1},{"x":187040,"y":122800,"v":1},{"x":190960,"y":121650,"v":1},{"x":191940,"y":123770,"v":1},{"x":191940,"y":122930,"v":1},{"x":187040,"y":123880,"v":1},{"x":190960,"y":125520,"v":1},{"x":189490,"y":126540,"v":1},{"x":190960,"y":126540,"v":1},{"x":187040,"y":132780,"v":1},{"x":192530,"y":129330,"v":1},{"x":192730,"y":128870,"v":1},{"x":182140,"y":135750,"v":1},{"x":183710,"y":135750,"v":1},{"x":176110,"y":143020,"v":0},{"x":178900,"y":135730,"v":1},
{"x":192920,"y":129610,"v":0},{"x":195570,"y":129610,"v":1},{"x":197820,"y":128430,"v":1},{"x":199780,"y":128430,"v":1},{"x":201250,"y":127950,"v":1},{"x":202720,"y":129420,"v":1},{"x":204190,"y":129670,"v":1},{"x":205660,"y":129420,"v":1},{"x":207130,"y":129420,"v":1},{"x":208600,"y":129420,"v":1},{"x":210560,"y":129060,"v":1},{"x":212030,"y":128920,"v":1},{"x":213500,"y":128920,"v":1},{"x":216930,"y":127660,"v":1},{"x":218400,"y":127660,"v":1},{"x":221830,"y":127750,"v":1},{"x":225460,"y":127460,"v":1},{"x":229180,"y":127460,"v":1},{"x":237030,"y":130480,"v":1},{"x":229670,"y":132630,"v":1},{"x":228690,"y":131360,"v":1},{"x":226240,"y":131170,"v":1},{"x":224280,"y":130880,"v":1},{"x":222820,"y":131360,"v":1},{"x":221340,"y":131850,"v":1},{"x":221340,"y":133800,"v":1},{"x":220360,"y":135260,"v":1},{"x":218890,"y":135260,"v":1},{"x":217420,"y":135750,"v":1},{"x":215950,"y":135750,"v":1},{"x":214480,"y":135750,"v":1},{"x":212520,"y":134290,"v":1},{"x":210540,"y":132830,"v":1},{"x":209580,"y":133800,"v":1},{"x":206760,"y":133800,"v":1},{"x":207130,"y":132830,"v":1},{"x":205660,"y":134290,"v":1},{"x":204190,"y":134290,"v":1},{"x":203700,"y":135750,"v":1},{"x":201740,"y":134290,"v":1},{"x":200270,"y":133320,"v":1},{"x":198800,"y":135750,"v":1},{"x":197820,"y":135260,"v":1},{"x":196060,"y":135260,"v":1},{"x":194890,"y":135750,"v":1},{"x":192920,"y":135260,"v":1},{"x":191940,"y":135260,"v":1},{"x":192420,"y":132830,"v":1},{"x":193410,"y":131370,"v":1},{"x":195860,"y":131830,"v":1},{"x":197820,"y":131370,"v":1},{"x":199780,"y":131370,"v":1},{"x":201740,"y":131370,"v":1},{"x":203210,"y":131370,"v":1},{"x":205170,"y":130880,"v":1},{"x":207130,"y":130880,"v":1},{"x":209090,"y":130880,"v":1},{"x":211050,"y":130370,"v":1},{"x":214970,"y":130880,"v":1},{"x":217130,"y":130390,"v":1},{"x":219380,"y":129900,"v":1},{"x":220850,"y":129900,"v":1},{"x":222820,"y":129710,"v":1},{"x":224770,"y":129710,"v":1},{"x":224770,"y":133800,"v":0},{"x":224560,"y":137500,"v":0},{"x":225260,"y":139160,"v":1},{"x":226730,"y":140140,"v":0},{"x":228250,"y":139160,"v":1},{"x":228850,"y":136720,"v":1},{"x":227250,"y":136240,"v":1},{"x":225750,"y":136240,"v":1},{"x":222820,"y":138680,"v":1},{"x":220850,"y":139160,"v":1},{"x":219380,"y":139160,"v":1},{"x":217420,"y":138680,"v":1},{"x":215950,"y":137210,"v":1},{"x":214480,"y":138190,"v":1},{"x":213000,"y":138190,"v":1},{"x":211540,"y":138190,"v":1},{"x":209090,"y":138190,"v":1},{"x":207130,"y":138680,"v":1},{"x":204190,"y":138190,"v":1},{"x":202430,"y":139160,"v":1},{"x":200270,"y":138680,"v":1},{"x":198330,"y":139160,"v":1},{"x":195860,"y":139160,"v":1},{"x":194300,"y":138680,"v":1},{"x":192920,"y":138680,"v":1},{"x":192920,"y":137210,"v":1},{"x":194390,"y":137210,"v":1},{"x":196350,"y":137210,"v":1},{"x":198800,"y":137210,"v":1},{"x":202060,"y":137210,"v":1},{"x":206610,"y":137210,"v":1},{"x":197820,"y":133800,"v":1},{"x":195860,"y":133320,"v":1},{"x":193900,"y":133320,"v":1},{"x":191940,"y":132830,"v":1},{"x":193410,"y":133800,"v":1},{"x":197820,"y":126490,"v":1},{"x":199290,"y":127490,"v":1},{"x":200760,"y":126200,"v":1},{"x":202720,"y":126980,"v":1},{"x":204190,"y":125800,"v":1},{"x":205660,"y":126200,"v":1},{"x":207620,"y":126200,"v":1},{"x":213500,"y":127460,"v":1},{"x":212520,"y":124540,"v":1},{"x":210540,"y":126650,"v":1},{"x":209580,"y":124540,"v":1},{"x":207580,"y":123760,"v":1},{"x":205660,"y":124530,"v":1},{"x":204190,"y":124530,"v":1},{"x":202430,"y":124810,"v":1},{"x":200270,"y":124810,"v":1},{"x":198270,"y":124810,"v":1},{"x":195360,"y":124810,"v":1},{"x":193530,"y":124810,"v":1},{"x":191450,"y":124810,"v":1},{"x":214970,"y":124540,"v":1},{"x":218020,"y":124540,"v":1},{"x":221630,"y":124540,"v":1},{"x":225260,"y":124450,"v":1},{"x":228690,"y":124450,"v":0},{"x":230150,"y":121610,"v":1},{"x":225060,"y":121410,"v":0},{"x":219380,"y":121120,"v":1},{"x":215950,"y":120930,"v":1},{"x":214480,"y":120930,"v":1},{"x":212520,"y":121120,"v":1},{"x":209580,"y":120930,"v":1},{"x":207620,"y":120930,"v":1},{"x":205660,"y":120640,"v":1},{"x":203700,"y":121410,"v":1},{"x":201250,"y":121120,"v":1},{"x":199780,"y":121610,"v":1},{"x":197820,"y":121610,"v":1},{"x":195860,"y":121410,"v":1},{"x":194390,"y":119150,"v":1},{"x":193410,"y":119150,"v":1},{"x":196350,"y":119150,"v":1},{"x":198270,"y":118200,"v":1},{"x":200760,"y":117800,"v":1},{"x":203210,"y":118200,"v":1},{"x":203210,"y":119200,"v":1},{"x":206030,"y":118200,"v":1},{"x":208030,"y":118000,"v":1},{"x":212030,"y":118000,"v":1},{"x":215820,"y":118000,"v":1},{"x":218420,"y":118000,"v":1},{"x":221830,"y":117900,"v":1},{"x":223600,"y":117710,"v":1},{"x":225260,"y":117710,"v":1},{"x":226240,"y":118200,"v":1},{"x":227220,"y":117020,"v":1},{"x":230150,"y":117900,"v":0},{"x":233720,"y":118400,"v":1},{"x":235550,"y":119570,"v":0},{"x":214970,"y":116250,"v":0},{"x":217130,"y":116050,"v":1},{"x":214970,"y":114780,"v":1},{"x":216740,"y":114980,"v":1},{"x":213990,"y":114490,"v":1},{"x":225260,"y":116440,"v":1},{"x":224280,"y":115280,"v":1},{"x":221830,"y":114780,"v":1},{"x":218890,"y":114780,"v":1},{"x":197820,"y":116050,"v":1},{"x":200570,"y":114780,"v":0},{"x":199290,"y":114780,"v":1},{"x":202720,"y":114780,"v":1},{"x":205660,"y":114490,"v":1},{"x":208210,"y":114590,"v":0},{"x":231630,"y":114780,"v":1},{"x":234590,"y":114780,"v":1},{"x":234280,"y":113820,"v":1},{"x":228200,"y":113820,"v":1},{"x":237030,"y":126100,"v":0},{"x":239560,"y":140630,"v":0},{"x":241230,"y":143840,"v":0},
{"x":209870,"y":111280,"v":1},{"x":212990,"y":111280,"v":1},{"x":214480,"y":113130,"v":1},{"x":218110,"y":111580,"v":1},{"x":220070,"y":111580,"v":1},{"x":222220,"y":111580,"v":1},{"x":224480,"y":111580,"v":1},{"x":225750,"y":111580,"v":1},{"x":228490,"y":111580,"v":1},{"x":231430,"y":111580,"v":1},{"x":233790,"y":112060,"v":0},{"x":235350,"y":112060,"v":1},{"x":236530,"y":110600,"v":1},{"x":236730,"y":110210,"v":1},{"x":217420,"y":109720,"v":1},{"x":221730,"y":109920,"v":1},{"x":225260,"y":109920,"v":1},{"x":227710,"y":109920,"v":0},{"x":229470,"y":109920,"v":1},{"x":233690,"y":109920,"v":1},{"x":243580,"y":109920,"v":0},{"x":217420,"y":107770,"v":1},{"x":220560,"y":108260,"v":1},{"x":223790,"y":108260,"v":1},{"x":227710,"y":108260,"v":1},{"x":230160,"y":108260,"v":1},{"x":240060,"y":107970,"v":1},{"x":213500,"y":106600,"v":1},{"x":219090,"y":106600,"v":1},{"x":221830,"y":106600,"v":1},{"x":223590,"y":106600,"v":1},{"x":227510,"y":106600,"v":1},{"x":228880,"y":106600,"v":1},{"x":230160,"y":106600,"v":1},{"x":231830,"y":106600,"v":1},{"x":238000,"y":106600,"v":1},{"x":239270,"y":106600,"v":1},{"x":212520,"y":104750,"v":1},{"x":223990,"y":104750,"v":1},{"x":225750,"y":104850,"v":1},{"x":228690,"y":105340,"v":1},{"x":233590,"y":104850,"v":1},{"x":235260,"y":104850,"v":1},{"x":238000,"y":105340,"v":1},{"x":239470,"y":105050,"v":1},{"x":240450,"y":105050,"v":1},{"x":212320,"y":103000,"v":1},{"x":215460,"y":103000,"v":1},{"x":217720,"y":103000,"v":1},{"x":218890,"y":103000,"v":1},{"x":220070,"y":103000,"v":1},{"x":221630,"y":103000,"v":1},{"x":223590,"y":103580,"v":1},{"x":224770,"y":103090,"v":1},{"x":225950,"y":103380,"v":1},{"x":226730,"y":102410,"v":1},{"x":228200,"y":103580,"v":1},{"x":229180,"y":104070,"v":1},{"x":230160,"y":103090,"v":1},{"x":231140,"y":102610,"v":1},{"x":232610,"y":102610,"v":1},{"x":234080,"y":103090,"v":1},{"x":236040,"y":102610,"v":1},{"x":237510,"y":103580,"v":1},{"x":238980,"y":104070,"v":1},{"x":240450,"y":103580,"v":1},{"x":240940,"y":102610,"v":1},{"x":212720,"y":101340,"v":1},{"x":214970,"y":101630,"v":1},{"x":218600,"y":101630,"v":1},{"x":221630,"y":101630,"v":1},{"x":222820,"y":101630,"v":1},{"x":223990,"y":101630,"v":1},{"x":225260,"y":101820,"v":1},{"x":226730,"y":101630,"v":1},{"x":227710,"y":101820,"v":1},{"x":228880,"y":102410,"v":1},{"x":229870,"y":102120,"v":1},{"x":232120,"y":101630,"v":1},{"x":234080,"y":101440,"v":1},{"x":235550,"y":101820,"v":1},{"x":236730,"y":101630,"v":1},{"x":238490,"y":101630,"v":1},{"x":240250,"y":101150,"v":1},{"x":239470,"y":102120,"v":1},{"x":214970,"y":99970,"v":1},{"x":218600,"y":99970,"v":1},{"x":224090,"y":99970,"v":1},{"x":231630,"y":100170,"v":1},{"x":234370,"y":99970,"v":1},{"x":235350,"y":99970,"v":1},{"x":237030,"y":100660,"v":1},{"x":238490,"y":100660,"v":1},{"x":232120,"y":98700,"v":1},{"x":242210,"y":99970,"v":0},{"x":248090,"y":99970,"v":0},{"x":242410,"y":98610,"v":0},{"x":214180,"y":98410,"v":1},{"x":220850,"y":98410,"v":1},{"x":225950,"y":98410,"v":1},{"x":227220,"y":98000,"v":1},{"x":228490,"y":98410,"v":1},{"x":238490,"y":98700,"v":1},{"x":213990,"y":96750,"v":1},{"x":217420,"y":96750,"v":1},{"x":224770,"y":96750,"v":1},{"x":227220,"y":96750,"v":1},{"x":230450,"y":96750,"v":1},{"x":225460,"y":95780,"v":0},{"x":233490,"y":96270,"v":0},{"x":239180,"y":96560,"v":0},{"x":242410,"y":96750,"v":0},{"x":247210,"y":95390,"v":0},{"x":229180,"y":103090,"v":1},{"x":228200,"y":102610,"v":1},{"x":229670,"y":101820,"v":1},{"x":230650,"y":103770,"v":1},{"x":237710,"y":101630,"v":1},{"x":238690,"y":102120,"v":1},{"x":239670,"y":103090,"v":1},{"x":236730,"y":102120,"v":1}
]},"mark":{"type":"point","shape":"circle","filled":true,"size":24,"stroke":"#111","strokeWidth":1,"opacity":1},"encoding":{"x":{"field":"x","type":"quantitative","scale":{"domain":[130000,260580],"nice":false,"zero":false},"axis":{"title":null,"grid":false,"domain":false,"values":[130000,140000,150000,160000,170000,180000,190000,200000,210000,220000,230000,240000,250000,260000],"tickColor":"#222","tickWidth":1.2,"tickSize":{"condition":{"test":"(datum.value-130000)%40000==0","value":13},"value":6},"labelExpr":"(datum.value-130000)%40000==0?format(datum.value,'d')+'.':''","labelFontSize":20,"labelFont":"Liberation Sans","labelColor":"#111","labelPadding":6,"labelOverlap":false,"labelFlush":false}},"y":{"field":"y","type":"quantitative","scale":{"domain":[80000,270060],"nice":false,"zero":false},"axis":{"title":null,"grid":false,"domain":false,"values":[80000,90000,100000,110000,120000,130000,140000,150000,160000,170000,180000,190000,200000,210000,220000,230000,240000,250000,260000,270000],"tickColor":"#222","tickWidth":1.2,"tickSize":{"condition":{"test":"datum.value%40000==0","value":14},"value":6},"labelExpr":"datum.value%40000==0?format(datum.value,'d')+'.':''","labelFontSize":20,"labelFont":"Liberation Sans","labelColor":"#111","labelPadding":3,"labelBaseline":"alphabetic","labelOverlap":false}},"fill":{"field":"v","type":"quantitative","scale":{"domain":[0,1],"range":["#0000ff","#00ffff","#00ff00","#ffff00","#ff0000"]},"legend":{"orient":"none","legendX":619,"legendY":66,"title":null,"gradientLength":520,"gradientThickness":72,"gradientStrokeColor":"#555","gradientStrokeWidth":1,"values":[0,1],"labelExpr":"datum.value==1?'1.000':'.0'","labelFontSize":20,"labelFont":"Liberation Sans","labelColor":"#111","labelOverlap":false,"labelOffset":12,"labelBaseline":"alphabetic"}}}},{"data":{"values":[{"a":333200,"b":335500,"c":250760},{"a":333200,"b":335500,"c":98700}]},"mark":{"type":"rule","color":"#777","strokeWidth":1.2,"clip":false},"encoding":{"x":{"field":"a","type":"quantitative"},"x2":{"field":"b"},"y":{"field":"c","type":"quantitative"}}}]}
